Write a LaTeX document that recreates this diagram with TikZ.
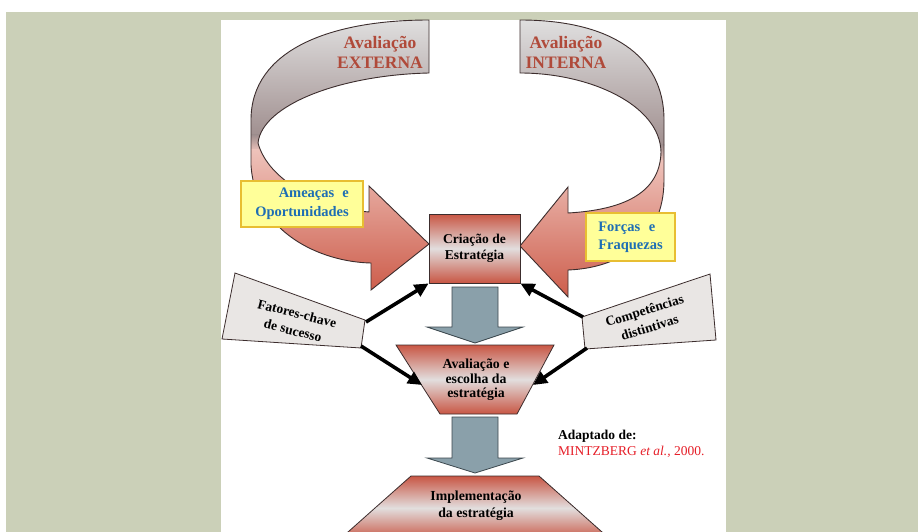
\documentclass[tikz,border=0pt]{standalone}
\usepackage{fontspec}
\setmainfont{Liberation Serif}
\usetikzlibrary{arrows.meta}
\definecolor{sage}{RGB}{203,208,184}
\definecolor{ribred}{RGB}{204,90,72}
\definecolor{ribpink}{RGB}{238,194,186}
\definecolor{ribgrayA}{RGB}{226,226,226}
\definecolor{ribgrayB}{RGB}{160,143,143}
\definecolor{boxred}{RGB}{200,86,68}
\definecolor{boxmid}{RGB}{226,222,222}
\definecolor{edgecol}{RGB}{60,45,45}
\definecolor{titlered}{RGB}{176,74,58}
\definecolor{txtblue}{RGB}{30,110,180}
\definecolor{yfill}{RGB}{255,255,153}
\definecolor{yedge}{RGB}{232,190,50}
\definecolor{gfill}{RGB}{233,230,228}
\definecolor{bluegray}{RGB}{138,160,170}
\definecolor{bgedge}{RGB}{60,72,78}
\definecolor{citered}{RGB}{230,30,40}
\def\LRibPath{(429,20) .. controls (330,20) and (251,50) .. (251,120) -- (251,165) .. controls (255,232) and (320,262) .. (371,263) -- (371,290) -- (429,244) -- (369,186) -- (369,212) .. controls (320,208) and (268,180) .. (258,143) .. controls (262,105) and (340,75) .. (429,73) -- cycle}
\def\RRibPath{(520,20) .. controls (610,20) and (664,55) .. (664,120) -- (664,180) .. controls (664,240) and (620,268) .. (568,270) -- (568,297) -- (520,246) -- (568,187) -- (568,213) .. controls (620,210) and (660,195) .. (661,152) .. controls (660,105) and (590,73) .. (520,73) -- cycle}
\begin{document}
\begin{tikzpicture}[x=1pt,y=-1pt,
  ttl/.style={align=center, text=titlered, inner sep=0, font=\fontsize{17.5}{20}\selectfont\bfseries},
  cbox/.style={draw=edgecol, line width=0.8pt, minimum width=91pt, minimum height=69pt,
    top color=boxred, bottom color=boxred, middle color=boxmid, align=center, inner sep=0,
    font=\fontsize{13.5}{16}\selectfont\bfseries},
  trap/.style={draw=edgecol, line width=0.8pt, top color=boxred, bottom color=boxred, middle color=boxmid},
  ttxt/.style={align=center, inner sep=0, font=\fontsize{13.8}{14.5}\selectfont\bfseries},
  ybox/.style={draw=yedge, fill=yfill, line width=1.2pt, inner sep=0, text=txtblue,
    font=\fontsize{14.5}{19}\selectfont\bfseries},
  gbox/.style={draw=edgecol, fill=gfill, line width=0.8pt},
  gtxt/.style={align=center, inner sep=0, font=\fontsize{13.5}{17.5}\selectfont\bfseries},
  bgarrow/.style={fill=bluegray, draw=bgedge, line width=0.8pt},
  ribedge/.style={draw=edgecol, line width=0.9pt},
  blk/.style={line width=3.6pt, -{Triangle[length=14pt,width=13pt]}}
]
\clip (0,0) rectangle (918,532);
\fill[white] (0,0) rectangle (918,532);
\fill[sage] (6,12) rectangle (918,532);
\fill[white] (221,20) rectangle (726,532);
% left ribbon
\begin{scope}
  \clip \LRibPath;
  \shade[top color=ribgrayA, bottom color=ribgrayB] (240,15) rectangle (440,136);
  \shade[top color=ribgrayB, bottom color=ribpink] (240,135) rectangle (440,151);
  \shade[top color=ribpink, bottom color=ribred] (240,150) rectangle (440,295);
\end{scope}
\path[ribedge] \LRibPath;
% right ribbon
\begin{scope}
  \clip \RRibPath;
  \shade[top color=ribgrayA, bottom color=ribgrayB] (510,15) rectangle (680,146);
  \shade[top color=ribgrayB, bottom color=ribpink] (510,145) rectangle (680,161);
  \shade[top color=ribpink, bottom color=ribred] (510,160) rectangle (680,302);
\end{scope}
\path[ribedge] \RRibPath;
% titles
\node[ttl] (ext) at (380,52) {Avaliação\\EXTERNA};
\node[ttl] (int) at (566,52) {Avaliação\\INTERNA};
% yellow boxes
\node[ybox, minimum width=122pt, minimum height=46pt, align=right] (ame) at (302,204) {Ameaças\hspace{0.55em}e\\Oportunidades};
\node[ybox, minimum width=89pt, minimum height=48pt, align=left, font=\fontsize{14.5}{18}\selectfont\bfseries] (for) at (630.5,237) {Forças\hspace{0.6em}e\\Fraquezas};
% central box
\node[cbox] (cria) at (474.5,248.5) {Criação de\\Estratégia};
% blue-gray arrows
\filldraw[bgarrow] (452,287) -- (498,287) -- (498,327) -- (523,327) -- (475,343) -- (427,327) -- (452,327) -- cycle;
\filldraw[bgarrow] (452,417) -- (498,417) -- (498,458) -- (523,458) -- (475,473) -- (427,458) -- (452,458) -- cycle;
% trapezoids
\shadedraw[trap] (396,345) -- (554,345) -- (517,414) -- (440,414) -- cycle;
\node[ttxt] (aval) at (476,380) {Avaliação e\\escolha da\\estratégia};
\shadedraw[trap] (411,476) -- (539,476) -- (611,540) -- (339,540) -- cycle;
\node[ttxt, font=\fontsize{13.8}{17}\selectfont\bfseries] (impl) at (476,505.5) {Implementação\\da estratégia};
% gray boxes
\filldraw[gbox] (235,273) -- (365,320) -- (361,348) -- (222,339) -- cycle;
\node[gtxt, rotate=-14] (fat) at (295,322) {Fatores-chave\\de sucesso};
\filldraw[gbox] (582,317) -- (710,274) -- (716,340) -- (585,349) -- cycle;
\node[gtxt, rotate=17] (comp) at (647,319) {Competências\\distintivas};
% black arrows
\coordinate (fatA) at (366,322);
\coordinate (fatB) at (361,346);
\coordinate (compA) at (583,317);
\coordinate (compB) at (587,348);
\coordinate (avL) at (422,385);
\coordinate (avR) at (533,385);
\draw[blk] (fatA) -- (cria.south west);
\draw[blk] (fatB) -- (avL);
\draw[blk] (compA) -- (cria.south east);
\draw[blk] (compB) -- (avR);
% citation
\node[anchor=base west, inner sep=0, font=\fontsize{13.5}{16}\selectfont\bfseries] (adap) at (558,439) {Adaptado de:};
\node[anchor=base west, inner sep=0, font=\fontsize{13.5}{16}\selectfont, text=citered] (mintz) at (558,455) {MINTZBERG \textit{et al.,} 2000.};
\end{tikzpicture}
\end{document}
